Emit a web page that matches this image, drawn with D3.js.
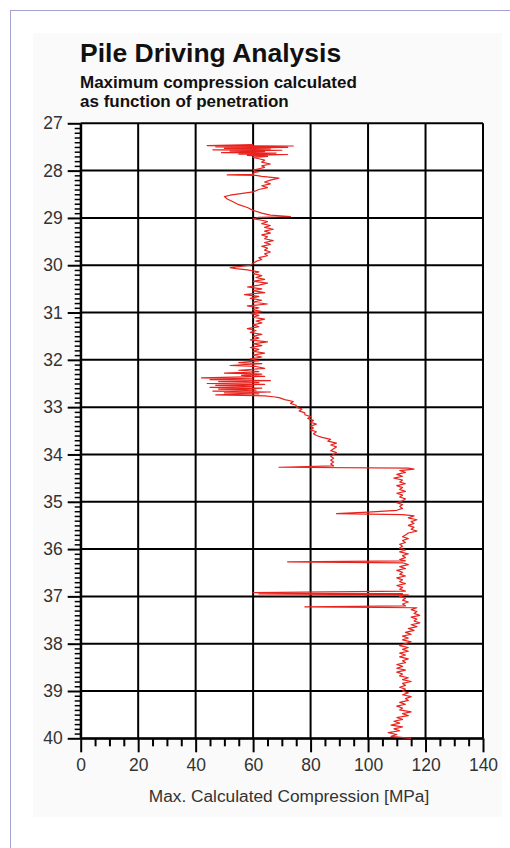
<!DOCTYPE html>
<html><head><meta charset="utf-8">
<script src="https://cdn.jsdelivr.net/npm/d3@7"></script>
<style>
html,body{margin:0;padding:0;background:#fff;}
svg{display:block;}
text{font-family:"Liberation Sans",Arial,sans-serif;}
</style></head>
<body>
<svg id="c" width="510" height="848"></svg>
<script>
const xTicks = [0, 20, 40, 60, 80, 100, 120, 140];
const yTicks = [27, 28, 29, 30, 31, 32, 33, 34, 35, 36, 37, 38, 39, 40];
const title = "Pile Driving Analysis";
const subtitle = ["Maximum compression calculated", "as function of penetration"];
const xLabel = "Max. Calculated Compression [MPa]";

const penetration = [
27.45,27.47,27.48,27.50,27.51,27.53,27.54,27.56,27.57,27.59,27.60,27.62,27.63,27.65,27.66,27.68,27.70,27.72,27.75,27.78,
27.82,27.86,27.90,27.93,27.96,27.99,28.02,28.05,28.08,28.09,28.10,28.12,28.16,28.20,28.24,28.28,28.32,28.36,28.40,28.45,
28.52,28.55,28.60,28.66,28.72,28.78,28.84,28.90,28.94,28.97,28.99,29.02,29.05,29.08,29.12,29.16,29.20,29.24,29.28,29.32,
29.36,29.40,29.44,29.48,29.52,29.56,29.60,29.64,29.68,29.72,29.76,29.80,29.84,29.88,29.92,29.96,30.00,30.03,30.05,30.07,
30.10,30.14,30.18,30.22,30.26,30.30,30.34,30.38,30.42,30.46,30.50,30.54,30.58,30.62,30.66,30.70,30.74,30.78,30.82,30.86,
30.90,30.94,30.98,31.02,31.06,31.10,31.14,31.18,31.22,31.26,31.30,31.34,31.38,31.42,31.46,31.50,31.54,31.58,31.62,31.66,
31.70,31.74,31.78,31.82,31.86,31.90,31.94,31.98,32.02,32.06,32.08,32.12,32.14,32.18,32.22,32.25,32.28,32.30,32.33,32.35,
32.38,32.40,32.42,32.44,32.46,32.48,32.50,32.52,32.54,32.56,32.58,32.60,32.62,32.64,32.66,32.68,32.70,32.72,32.74,32.76,
32.78,32.80,32.84,32.88,32.92,32.96,33.00,33.04,33.08,33.12,33.16,33.20,33.24,33.28,33.32,33.36,33.40,33.44,33.48,33.52,
33.56,33.60,33.64,33.68,33.72,33.76,33.80,33.84,33.88,33.92,33.96,34.00,34.04,34.08,34.12,34.16,34.20,34.24,34.27,34.29,
34.31,34.34,34.38,34.42,34.46,34.50,34.54,34.58,34.62,34.66,34.70,34.74,34.78,34.82,34.86,34.90,34.94,34.98,35.02,35.06,
35.10,35.14,35.18,35.22,35.25,35.27,35.30,35.34,35.38,35.42,35.46,35.50,35.54,35.58,35.62,35.66,35.70,35.74,35.78,35.82,
35.86,35.90,35.94,35.98,36.02,36.06,36.10,36.14,36.18,36.22,36.25,36.27,36.29,36.33,36.37,36.41,36.45,36.49,36.53,36.57,
36.61,36.65,36.69,36.73,36.77,36.81,36.85,36.89,36.92,36.94,36.95,36.97,37.00,37.04,37.08,37.12,37.16,37.20,37.22,37.24,
37.28,37.32,37.36,37.40,37.44,37.48,37.52,37.56,37.60,37.64,37.68,37.72,37.76,37.80,37.84,37.88,37.92,37.96,38.00,38.04,
38.08,38.12,38.16,38.20,38.24,38.28,38.32,38.36,38.40,38.44,38.48,38.52,38.56,38.60,38.64,38.68,38.72,38.76,38.80,38.84,
38.88,38.92,38.96,39.00,39.04,39.08,39.12,39.16,39.20,39.24,39.28,39.32,39.36,39.40,39.44,39.48,39.52,39.56,39.60,39.64,
39.68,39.72,39.76,39.80,39.84,39.88,39.92,39.96,40.00
];
const compression = [
60,44,74,47,72,50,66,46,70,52,64,49,68,55,72,58,65,60,62,64,
63,66,63,64,62,60,62,60,60,51,61,63,69,66,64,66,63,65,62,60,
52,50,51,53,55,58,60,63,66,73,62,60,63,65,63,66,64,67,64,66,
63,65,64,67,64,66,63,65,64,66,64,65,62,63,61,60,59,55,52,54,
58,62,60,63,61,64,60,65,62,58,63,60,64,57,62,59,63,60,65,58,
62,60,63,59,62,60,64,61,63,60,62,58,61,59,63,60,62,59,65,60,
63,59,62,60,64,60,63,59,62,55,63,52,61,64,55,62,50,63,56,64,
42,60,45,66,48,62,44,64,47,60,45,63,48,61,46,66,50,62,47,64,
67,69,71,74,73,75,75,77,76,78,78,80,79,81,80,82,80,81,80,82,
81,82,84,87,86,89,87,89,88,87,89,88,87,88,87,88,87,88,69,114,
116,111,113,110,112,109,112,111,113,110,112,111,113,110,112,111,113,112,110,112,
111,112,110,100,89,112,116,114,117,115,116,114,116,115,117,114,113,112,114,112,
113,111,112,111,113,111,114,112,113,111,113,72,112,114,111,113,110,112,111,113,
110,112,111,113,110,112,111,113,60,112,62,114,111,113,112,114,112,113,78,117,
115,117,116,118,115,117,116,118,115,117,114,116,113,115,112,114,112,115,113,111,
114,112,114,111,113,111,114,112,113,110,112,110,113,110,112,111,114,112,115,112,
113,111,113,112,114,112,115,113,114,111,113,110,112,111,115,112,114,110,112,109,
111,108,112,109,111,107,110,108,115
];

const svg = d3.select("#c");
const FONT = "'Liberation Sans',Arial,sans-serif";

// page frame and panel
svg.append("rect").attr("x", 10.5).attr("y", 10.5).attr("width", 620).attr("height", 900)
  .attr("fill", "#fff").attr("stroke", "#a3a3d3").attr("stroke-width", 1);
svg.append("rect").attr("x", 33).attr("y", 33).attr("width", 469).attr("height", 784)
  .attr("fill", "#fafafa");

const x = d3.scaleLinear().domain([0, 140]).range([80.7, 483]);
const y = d3.scaleLinear().domain([27, 40]).range([123.3, 738.3]);

// plot background
svg.append("rect").attr("x", x(0)).attr("y", y(27)).attr("width", x(140) - x(0)).attr("height", y(40) - y(27))
  .attr("fill", "#fff");

// title
svg.append("text").attr("x", 80).attr("y", 61.5).attr("font-size", 26.5).attr("font-weight", "bold")
  .attr("fill", "#111").text(title);
subtitle.forEach((s, i) => {
  svg.append("text").attr("x", 80).attr("y", 88 + i * 18.5).attr("font-size", 17).attr("font-weight", "bold")
    .attr("fill", "#111").text(s);
});

// gridlines
const grid = svg.append("g").attr("stroke", "#000").attr("stroke-width", 2);
grid.selectAll("line.v").data(xTicks).join("line").attr("class", "v")
  .attr("x1", d => x(d)).attr("x2", d => x(d)).attr("y1", y(27)).attr("y2", y(40));
grid.selectAll("line.h").data(yTicks).join("line").attr("class", "h")
  .attr("x1", x(0)).attr("x2", x(140)).attr("y1", d => y(d)).attr("y2", d => y(d));

// minor ticks
const xMinor = [5,10,15,25,30,35,45,50,55,65,70,75,85,90,95,105,110,115,125,130,135];
const yMinor = [];
yTicks.slice(0, -1).forEach(t => { for (let k = 1; k <= 9; k++) yMinor.push(+(t + k / 10).toFixed(1)); });

const xMinorAxis = d3.axisBottom(x).tickValues(xMinor).tickSize(8).tickSizeOuter(0).tickFormat("");
const yMinorAxis = d3.axisLeft(y).tickValues(yMinor).tickSize(6).tickSizeOuter(0).tickFormat("");
svg.append("g").attr("transform", `translate(0,${y(40)})`).call(xMinorAxis)
  .call(g => g.selectAll("line").attr("stroke", "#000").attr("stroke-width", 2))
  .call(g => g.select(".domain").remove());
svg.append("g").attr("transform", `translate(${x(0)},0)`).call(yMinorAxis)
  .call(g => g.selectAll("line").attr("stroke", "#000").attr("stroke-width", 1.5))
  .call(g => g.select(".domain").remove());

// major axes
const xAxis = d3.axisBottom(x).tickValues(xTicks).tickSize(14).tickSizeOuter(0).tickPadding(6).tickFormat(d3.format("d"));
const yAxis = d3.axisLeft(y).tickValues(yTicks).tickSize(13).tickSizeOuter(0).tickPadding(5).tickFormat(d3.format("d"));
svg.append("g").attr("transform", `translate(0,${y(40)})`).call(xAxis)
  .call(g => g.selectAll("line").attr("stroke", "#000").attr("stroke-width", 2))
  .call(g => g.select(".domain").attr("stroke", "#000").attr("stroke-width", 2))
  .call(g => g.selectAll("text").attr("font-size", 17.5).attr("fill", "#333").attr("font-family", FONT));
svg.append("g").attr("transform", `translate(${x(0)},0)`).call(yAxis)
  .call(g => g.selectAll("line").attr("stroke", "#000").attr("stroke-width", 2))
  .call(g => g.select(".domain").attr("stroke", "#000").attr("stroke-width", 2))
  .call(g => g.selectAll("text").attr("font-size", 17.5).attr("fill", "#333").attr("font-family", FONT));

// x label
svg.append("text").attr("x", 289).attr("y", 802).attr("text-anchor", "middle").attr("font-size", 17.3)
  .attr("fill", "#333").text(xLabel);

// data line
const pts = penetration.map((p, i) => [compression[i], p]);
svg.append("path").datum(pts)
  .attr("fill", "none").attr("stroke", "#e8231e").attr("stroke-width", 1.2).attr("stroke-linejoin", "round")
  .attr("d", d3.line().x(d => x(d[0])).y(d => y(d[1])));
</script>
</body></html>
